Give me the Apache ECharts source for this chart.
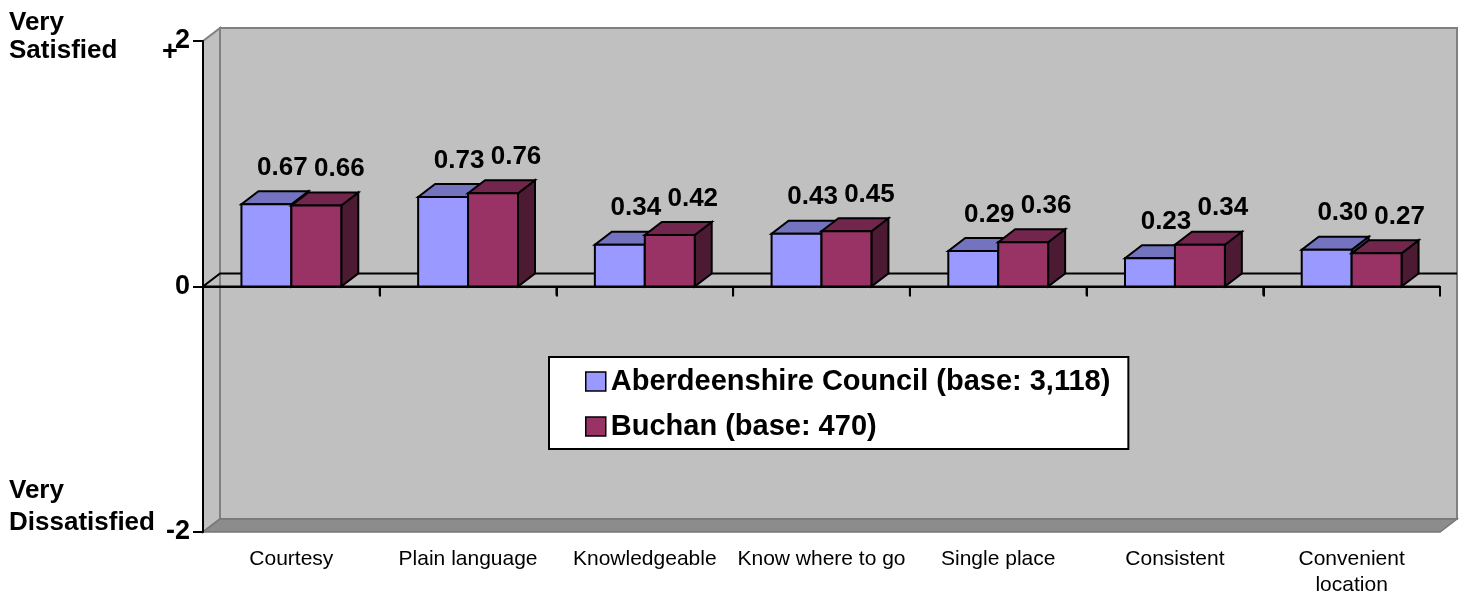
<!DOCTYPE html>
<html><head><meta charset="utf-8">
<script src="https://cdn.jsdelivr.net/npm/echarts@6/dist/echarts.min.js"></script>
<style>html,body{margin:0;padding:0;background:#fff}#c{width:1464px;height:598px}</style>
</head><body><div id="c"></div>
<script>
// ---- data ----
const categories = ['Courtesy', 'Plain language', 'Knowledgeable', 'Know where to go', 'Single place', 'Consistent', 'Convenient\nlocation'];
const aberdeenshire = [0.67, 0.73, 0.34, 0.43, 0.29, 0.23, 0.30];
const buchan = [0.66, 0.76, 0.42, 0.45, 0.36, 0.34, 0.27];
const seriesNames = ['Aberdeenshire Council (base: 3,118)', 'Buchan (base: 470)'];
const yTickLabels = { '-2': '-2', '0': '0', '2': '2' };
const yMin = -2, yMax = 2, yStep = 2;

// ---- style ----
const FONT = '"Liberation Sans", Arial, Helvetica, sans-serif';
const DX = 17, DY = -13;          // pseudo-3D depth offset
const BAR_FRAC = 50 / 177;         // bar width as a fraction of the category band
const COLORS = [
  { front: '#9999FF', top: '#7373BF', side: '#4D4D80' },
  { front: '#993366', top: '#73264D', side: '#4D1A33' }
];
const LABEL_DX = [16, 23];

function barRender(idx) {
  const col = COLORS[idx];
  return function (params, api) {
    const c = api.value(0), v = api.value(1);
    const base = api.coord([c, 0]);
    const top = api.coord([c, v]);
    const band = api.size([1, 0])[0];
    const bw = band * BAR_FRAC;
    const x0 = base[0] - bw + idx * bw;
    const x1 = x0 + bw;
    const yt = top[1], yb = base[1];
    const ls = { stroke: '#000', lineWidth: 2, lineJoin: 'miter' };
    return {
      type: 'group', children: [
        { type: 'polygon', shape: { points: [[x1, yt], [x1 + DX, yt + DY], [x1 + DX, yb + DY], [x1, yb]] }, style: Object.assign({ fill: col.side }, ls) },
        { type: 'polygon', shape: { points: [[x0, yt], [x1, yt], [x1 + DX, yt + DY], [x0 + DX, yt + DY]] }, style: Object.assign({ fill: col.top }, ls) },
        { type: 'rect', shape: { x: x0, y: yt, width: bw, height: yb - yt }, style: Object.assign({ fill: col.front }, ls) },
        { type: 'text', x: (x0 + x1) / 2 + LABEL_DX[idx], y: yt - 36.5, z2: 100,
          style: { text: v.toFixed(2), fontSize: 26, fontWeight: 'bold', fontFamily: FONT, fill: '#000', align: 'center', verticalAlign: 'middle' } }
      ]
    };
  };
}

function bgRender(params, api) {
  const band = api.size([1, 0])[0];
  const n = categories.length;
  const L = api.coord([0, 0])[0] - band / 2;
  const R = api.coord([n - 1, 0])[0] + band / 2;
  const yTop = api.coord([0, yMax])[1];
  const yBot = api.coord([0, yMin])[1];
  const y0 = api.coord([0, 0])[1];
  const children = [
    { type: 'rect', shape: { x: L + DX, y: yTop + DY, width: R - L, height: yBot - yTop }, style: { fill: '#C0C0C0', stroke: '#808080', lineWidth: 2 } },
    { type: 'polygon', shape: { points: [[L, yTop], [L + DX, yTop + DY], [L + DX, yBot + DY], [L, yBot]] }, style: { fill: '#C0C0C0', stroke: '#808080', lineWidth: 2 } },
    { type: 'polygon', shape: { points: [[L, yBot], [L + DX, yBot + DY], [R + DX, yBot + DY], [R, yBot]] }, style: { fill: '#8C8C8C', stroke: '#777777', lineWidth: 1.5 } },
    { type: 'polyline', shape: { points: [[R + DX, y0 + DY], [L + DX, y0 + DY], [L, y0], [R, y0]] }, style: { fill: null, stroke: '#000', lineWidth: 2 } }
  ];
  for (let i = 1; i <= n; i++) {
    const x = L + i * band;
    children.push({ type: 'line', shape: { x1: x, y1: y0, x2: x, y2: y0 + 9 }, style: { stroke: '#000', lineWidth: 2 } });
  }
  return { type: 'group', children };
}

const chart = echarts.init(document.getElementById('c'), null, { renderer: 'canvas' });
chart.setOption({
  animation: false,
  backgroundColor: '#fff',
  grid: { left: 203, top: 41, width: 1237, height: 493 },
  xAxis: {
    type: 'category', data: categories, boundaryGap: true, z: 10,
    axisLine: { lineStyle: { color: '#000', width: 2 } },
    axisTick: { show: true, length: 10, interval: 0, lineStyle: { color: '#000', width: 2 } },
    axisLabel: { interval: 0, color: '#000', fontSize: 21, fontFamily: FONT, lineHeight: 26, margin: 14 },
    splitLine: { show: false }
  },
  yAxis: {
    type: 'value', min: yMin, max: yMax, interval: yStep, z: 10,
    axisLine: { show: true, lineStyle: { color: '#000', width: 2 } },
    axisTick: { show: true, length: 10, lineStyle: { color: '#000', width: 2 } },
    axisLabel: { color: '#000', fontSize: 27, fontWeight: 'bold', fontFamily: FONT, margin: 13, formatter: v => yTickLabels[String(v)] },
    splitLine: { show: false }
  },
  legend: {
    orient: 'vertical', left: 549, top: 357,
    data: seriesNames.map(n => ({ name: n, icon: 'rect' })),
    itemWidth: 20, itemHeight: 19, itemGap: 12,
    backgroundColor: '#fff', borderColor: '#000', borderWidth: 2, borderRadius: 0,
    padding: [8, 18, 6, 36],
    textStyle: { color: '#000', fontSize: 29, fontWeight: 'bold', fontFamily: FONT, lineHeight: 33 },
    itemStyle: { borderColor: '#000', borderWidth: 1.5 },
    selectedMode: false, z: 20
  },
  graphic: [
    { type: 'text', left: 9, top: 9, style: { text: 'Very\nSatisfied', fontSize: 26, fontWeight: 'bold', fontFamily: FONT, lineHeight: 28, fill: '#000' } },
    { type: 'text', left: 9, top: 475, style: { text: 'Very\nDissatisfied', fontSize: 26, fontWeight: 'bold', fontFamily: FONT, lineHeight: 32, fill: '#000' } },
    { type: 'text', x: 170, y: 53, z: 20, style: { text: '+', fontSize: 27, fontWeight: 'bold', fontFamily: FONT, fill: '#000', align: 'center', verticalAlign: 'middle' } }
  ],
  series: [
    { type: 'custom', name: '_bg', z: 1, silent: true, renderItem: bgRender, data: [[0, 0]], legendHoverLink: false },
    { type: 'custom', name: seriesNames[0], z: 3, itemStyle: { color: COLORS[0].front }, renderItem: barRender(0), data: aberdeenshire.map((v, i) => [i, v]) },
    { type: 'custom', name: seriesNames[1], z: 3, itemStyle: { color: COLORS[1].front }, renderItem: barRender(1), data: buchan.map((v, i) => [i, v]) }
  ]
});
</script>
</body></html>
